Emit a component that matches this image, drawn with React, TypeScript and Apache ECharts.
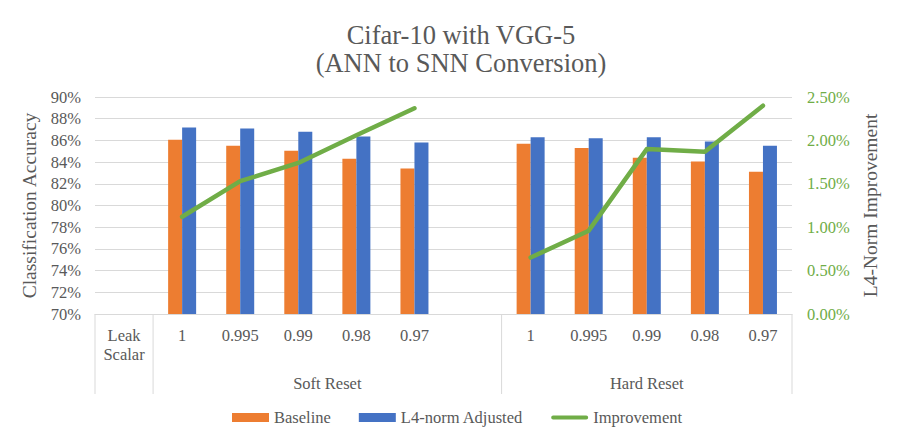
import React, { useEffect, useRef } from 'react';
import * as echarts from 'echarts';

const categories = ['Leak\nScalar', '1', '0.995', '0.99', '0.98', '0.97', '', '1', '0.995', '0.99', '0.98', '0.97'];
const groupNames = ['Soft Reset', 'Hard Reset'];
const groupStarts = [1, 7];
const baseline = [null, 86.05, 85.5, 85.05, 84.3, 83.4, null, 85.7, 85.3, 84.4, 84.05, 83.1];
const adjusted = [null, 87.2, 87.1, 86.8, 86.35, 85.8, null, 86.3, 86.2, 86.3, 85.9, 85.5];
const improvement = [null, 1.12, 1.53, 1.74, 2.06, 2.37, null, 0.65, 0.96, 1.9, 1.87, 2.4];

const FONT = 'Liberation Serif';
const GRAY = '#595959';
const LINE = '#D9D9D9';
const ORANGE = '#ED7D31';
const BLUE = '#4472C4';
const GREEN = '#70AD47';
const LINE_ICON = 'path://M0,0 L37,0 L37,0.001 Z M1.5,2.5 L35.5,2.5 A2,2 0 0 1 35.5,6.5 L1.5,6.5 A2,2 0 0 1 1.5,2.5 Z M0,9 L37,9 L37,9.001 Z';

export default function App() {
  const ref = useRef<HTMLDivElement>(null);
  useEffect(() => {
    document.body.style.margin = '0';
    const chart = echarts.init(ref.current!, null, { renderer: 'svg' });
    chart.setOption({
      animation: false,
      textStyle: { fontFamily: FONT },
      title: {
        text: 'Cifar-10 with VGG-5\n(ANN to SNN Conversion)',
        left: 456,
        textAlign: 'center',
        top: 16,
        textStyle: { fontFamily: FONT, fontSize: 26.5, lineHeight: 28, fontWeight: 'normal', color: GRAY },
      },
      legend: {
        left: 232,
        top: 409,
        padding: 0,
        itemWidth: 37,
        itemHeight: 9,
        itemGap: 28,
        textStyle: { fontFamily: FONT, fontSize: 16.5, color: GRAY },
        data: [
          { name: 'Baseline', icon: 'rect' },
          { name: 'L4-norm Adjusted', icon: 'rect' },
          { name: 'Improvement', icon: LINE_ICON, itemStyle: { color: GREEN } },
        ],
      },
      grid: { left: 95, right: 108, top: 97, bottom: 130 },
      xAxis: {
        type: 'category',
        data: categories,
        axisLine: { lineStyle: { color: LINE, width: 1 } },
        axisTick: { show: false },
        axisLabel: {
          interval: 0,
          margin: 12,
          color: GRAY,
          fontFamily: FONT,
          fontSize: 16.5,
          lineHeight: 19,
          verticalAlign: 'top',
        },
      },
      yAxis: [
        {
          type: 'value',
          min: 70,
          max: 90,
          interval: 2,
          name: 'Classification Accuracy',
          nameLocation: 'middle',
          nameRotate: 90,
          nameGap: 44,
          nameTextStyle: { fontFamily: FONT, fontSize: 19.5, color: GRAY },
          axisLine: { show: false },
          axisTick: { show: false },
          axisLabel: { margin: 14, color: GRAY, fontFamily: FONT, fontSize: 16.5, formatter: '{value}%' },
          splitLine: { lineStyle: { color: LINE, width: 1 } },
        },
        {
          type: 'value',
          min: 0,
          max: 2.5,
          interval: 0.5,
          position: 'right',
          name: 'L4-Norm Improvement',
          nameLocation: 'middle',
          nameRotate: 90,
          nameGap: 63,
          nameTextStyle: { fontFamily: FONT, fontSize: 19.5, color: GRAY },
          axisLine: { show: false },
          axisTick: { show: false },
          axisLabel: {
            margin: 15,
            color: GREEN,
            fontFamily: FONT,
            fontSize: 16.5,
            formatter: (v: number) => v.toFixed(2) + '%',
          },
          splitLine: { show: false },
        },
      ],
      series: [
        {
          name: 'Baseline',
          type: 'bar',
          data: baseline,
          barWidth: 14,
          barGap: '0%',
          itemStyle: { color: ORANGE },
        },
        {
          name: 'L4-norm Adjusted',
          type: 'bar',
          data: adjusted,
          barWidth: 14,
          barGap: '0%',
          itemStyle: { color: BLUE },
        },
        {
          name: 'Improvement',
          type: 'line',
          yAxisIndex: 1,
          data: improvement,
          connectNulls: false,
          showSymbol: false,
          symbol: 'none',
          lineStyle: { color: GREEN, width: 4.5, cap: 'round', join: 'round' },
          itemStyle: { color: GREEN },
        },
      ],
    });

    const c0 = chart.convertToPixel({ xAxisIndex: 0 }, 0) as number;
    const c1 = chart.convertToPixel({ xAxisIndex: 0 }, 1) as number;
    const bw = c1 - c0;
    const edge = (i: number) => c0 - bw / 2 + bw * i;
    const yBase = chart.convertToPixel({ yAxisIndex: 0 }, 70) as number;
    const tableH = 80;
    const boundaries = [0, 1, 7, categories.length];
    const graphics: any[] = boundaries.map((b) => ({
      type: 'line',
      shape: { x1: edge(b), y1: yBase, x2: edge(b), y2: yBase + tableH },
      style: { stroke: LINE, lineWidth: 1 },
      silent: true,
    }));
    groupNames.forEach((g, gi) => {
      const s = groupStarts[gi];
      const e = gi + 1 < groupStarts.length ? groupStarts[gi + 1] : categories.length;
      graphics.push({
        type: 'text',
        x: (edge(s) + edge(e)) / 2,
        y: yBase + 69,
        style: {
          text: g,
          fontFamily: FONT,
          fontSize: 16.5,
          fill: GRAY,
          align: 'center',
          verticalAlign: 'middle',
        },
        silent: true,
      });
    });
    chart.setOption({ graphic: graphics });

    return () => chart.dispose();
  }, []);
  return <div ref={ref} style={{ width: 900, height: 444 }} />;
}
